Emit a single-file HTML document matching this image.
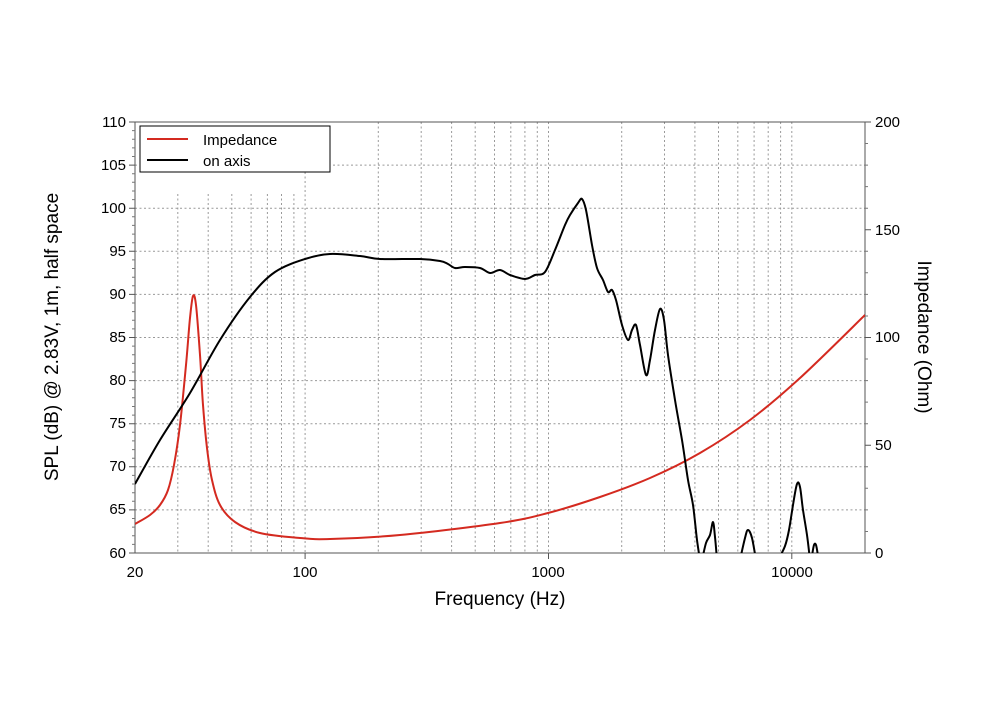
<!DOCTYPE html><html><head><style>body{margin:0;background:#fff}svg{display:block}text{font-family:"Liberation Sans",Arial,sans-serif;fill:#000}</style></head><body>
<svg width="1000" height="718" viewBox="0 0 1000 718">
<g stroke="#999" stroke-width="1" stroke-dasharray="2,2.5" fill="none">
<path d="M135 165.1H865M135 208.2H865M135 251.3H865M135 294.4H865M135 337.5H865M135 380.6H865M135 423.7H865M135 466.8H865M135 509.9H865"/>
<path d="M177.8 194V553M208.2 194V553M231.8 194V553M251.1 194V553M267.4 194V553M281.5 194V553M293.9 194V553"/>
<path d="M305.1 172V553M378.3 122V553M421.2 122V553M451.6 122V553M475.2 122V553M494.5 122V553M510.8 122V553M524.9 122V553M537.3 122V553M548.5 122V553M621.7 122V553M664.5 122V553M694.9 122V553M718.5 122V553M737.8 122V553M754.1 122V553M768.2 122V553M780.6 122V553M791.8 122V553"/>
</g>
<rect x="135" y="122" width="730" height="431" fill="none" stroke="#555" stroke-width="1"/>
<path stroke="#555" d="M135 122h-6M135 165.1h-6M135 208.2h-6M135 251.3h-6M135 294.4h-6M135 337.5h-6M135 380.6h-6M135 423.7h-6M135 466.8h-6M135 509.9h-6M135 553h-6M865 122h6M865 229.75h6M865 337.5h6M865 445.25h6M865 553h6M305.1 553v6M548.5 553v6M791.8 553v6"/>
<path stroke="#777" d="M135 130.6h-3M135 139.2h-3M135 147.9h-3M135 156.5h-3M135 173.7h-3M135 182.3h-3M135 191h-3M135 199.6h-3M135 216.8h-3M135 225.4h-3M135 234.1h-3M135 242.7h-3M135 259.9h-3M135 268.5h-3M135 277.2h-3M135 285.8h-3M135 303h-3M135 311.6h-3M135 320.3h-3M135 328.9h-3M135 346.1h-3M135 354.7h-3M135 363.4h-3M135 372h-3M135 389.2h-3M135 397.8h-3M135 406.5h-3M135 415.1h-3M135 432.3h-3M135 440.9h-3M135 449.6h-3M135 458.2h-3M135 475.4h-3M135 484h-3M135 492.7h-3M135 501.3h-3M135 518.5h-3M135 527.1h-3M135 535.8h-3M135 544.4h-3M865 143.5h3M865 165.1h3M865 186.6h3M865 208.2h3M865 251.3h3M865 272.8h3M865 294.4h3M865 316h3M865 359h3M865 380.6h3M865 402.1h3M865 423.7h3M865 466.8h3M865 488.3h3M865 509.9h3M865 531.5h3"/>
<g font-size="15" text-anchor="end">
<text x="126" y="127">110</text><text x="126" y="170">105</text><text x="126" y="213">100</text><text x="126" y="256">95</text><text x="126" y="299">90</text><text x="126" y="342">85</text><text x="126" y="385">80</text><text x="126" y="428">75</text><text x="126" y="471">70</text><text x="126" y="514">65</text><text x="126" y="558">60</text>
</g>
<g font-size="15" text-anchor="start">
<text x="875" y="127">200</text><text x="875" y="235">150</text><text x="875" y="342">100</text><text x="875" y="450">50</text><text x="875" y="558">0</text>
</g>
<g font-size="15" text-anchor="middle">
<text x="135" y="577">20</text><text x="305" y="577">100</text><text x="548" y="577">1000</text><text x="792" y="577">10000</text>
</g>
<text x="500" y="605" font-size="19" text-anchor="middle">Frequency (Hz)</text>
<text transform="translate(58 337) rotate(-90)" font-size="19" text-anchor="middle">SPL (dB) @ 2.83V, 1m, half space</text>
<text transform="translate(918 337) rotate(90)" font-size="19" text-anchor="middle">Impedance (Ohm)</text>
<defs><clipPath id="c"><rect x="135" y="122" width="730" height="431"/></clipPath></defs>
<g clip-path="url(#c)" fill="none" stroke-width="2" stroke-linejoin="round">
<path class="s" stroke="#d42a20" data-p="135,524 150,515 160,505 168,490 174,465 180,425 186,365 190,318 193,296 196,305 200,355 203,405 207,448 212,480 220,505 235,522 260,533 300,538 330,539 400,535 500,523 548,513 600,497 650,478 700,453 750,420 800,378 865,315"/>
<path class="s" stroke="#000" data-p="135,484 160,440 190,393 220,340 250,297 275,272 305,259 330,254 360,256 380,259 420,259 440,261 448,264 455,268 465,267 480,268 490,273 500,270 510,275 525,279 535,275 545,272 555,250 565,225 570,215 578,203 582,199 586,210 592,245 597,268 603,280 608,292 612,290 616,300 622,325 628,340 632,330 636,325 640,345 646,375 650,360 655,330 660,309 664,320 668,355 675,400 682,440 688,480 693,505 697,540 700,560"/>
<path class="s" stroke="#000" data-p="702,560 706,543 710,535 713,522 715,537 717,560"/>
<path class="s" stroke="#000" data-p="740,560 745,538 748,530 752,538 756,560"/>
<path class="s" stroke="#000" data-p="778,560 785,546 789,530 793,505 797,484 800,487 803,510 807,535 810,560"/>
<path class="s" stroke="#000" data-p="812,556 814,545 816,545 818,556"/>
</g>
<rect x="140" y="126" width="190" height="46" fill="#fff" stroke="#000" stroke-width="1"/>
<line x1="147" y1="139" x2="188" y2="139" stroke="#d42a20" stroke-width="2"/>
<line x1="147" y1="160" x2="188" y2="160" stroke="#000" stroke-width="2"/>
<text x="203" y="145" font-size="15">Impedance</text>
<text x="203" y="166" font-size="15">on axis</text>
</svg>
<script>
document.querySelectorAll('path.s').forEach(function(el){
var p=el.getAttribute('data-p').split(' ').map(function(s){return s.split(',').map(Number);});
var d='M'+p[0][0]+' '+p[0][1];
for(var i=0;i<p.length-1;i++){
var a=p[Math.max(i-1,0)],b=p[i],c=p[i+1],e=p[Math.min(i+2,p.length-1)];
var c1x=b[0]+(c[0]-a[0])/6,c1y=b[1]+(c[1]-a[1])/6,c2x=c[0]-(e[0]-b[0])/6,c2y=c[1]-(e[1]-b[1])/6;
d+=' C'+c1x.toFixed(1)+' '+c1y.toFixed(1)+' '+c2x.toFixed(1)+' '+c2y.toFixed(1)+' '+c[0]+' '+c[1];}
el.setAttribute('d',d);});
</script>
</body></html>
